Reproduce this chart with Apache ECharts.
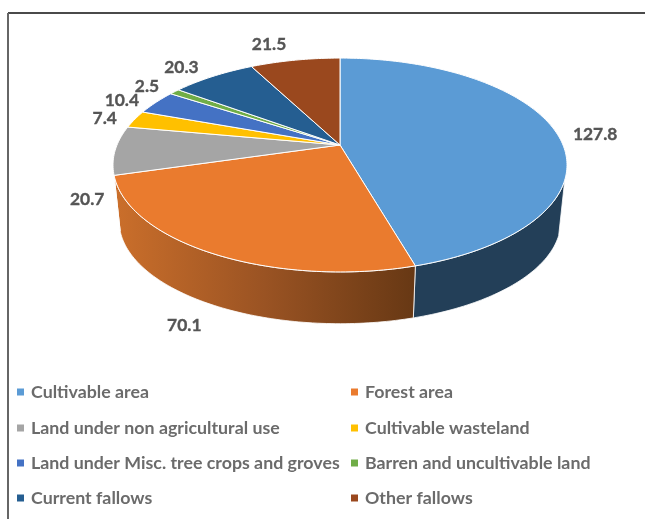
<!DOCTYPE html>
<html>
<head>
<meta charset="utf-8">
<style>html,body{margin:0;padding:0;background:#fff}#chart{width:645px;height:519px}</style>
<script src="https://cdn.jsdelivr.net/npm/echarts@6/dist/echarts.min.js"></script>
</head>
<body>
<div id="chart"></div>
<script>
// Land use classes and their areas
var categories = ['Cultivable area', 'Forest area', 'Land under non agricultural use', 'Cultivable wasteland',
  'Land under Misc. tree crops and groves', 'Barren and uncultivable land', 'Current fallows', 'Other fallows'];
var areas = [127.8, 70.1, 20.7, 7.4, 10.4, 2.5, 20.3, 21.5];
var topColors = ['#5b9bd5', '#ea7b2e', '#a5a5a5', '#ffc000', '#4472c4', '#70ad47', '#255e91', '#9a481e'];
// Pixel nudges from each slice's rim point out to its value label
var labelNudges = [[40, 3], [-27, 72], [-28, 49], [-30, -1], [-34, -2], [-27.5, -5], [-31.5, -9], [-26, -16]];

var total = areas.reduce(function (a, b) { return a + b; }, 0);
var TAU = Math.PI * 2;
var PERSPECTIVE = 0.187;          // foreshortening of the disc
var RIM_STEP = TAU / 360;
var BASE_SCALE_X = 0.973, BASE_SCALE_Y = 0.959, BASE_DROP = 0.552;
var SIDE_FROM = 108.6 / 360 * TAU, SIDE_TO = 254 / 360 * TAU;

// Point on the disc for a clockwise angle from north; `base` selects the lower rim
function discPoint(theta, radius, base) {
  var X = Math.sin(theta) * radius, Y = Math.cos(theta) * radius;
  var w = 1 + PERSPECTIVE * Y;
  if (base) return [BASE_SCALE_X * X / w, BASE_SCALE_Y * Y / w - BASE_DROP];
  return [X / w, Y / w];
}

function startAngle(index) {
  var sum = 0;
  for (var i = 0; i < index; i++) sum += areas[i];
  return sum / total * TAU;
}

function arcAngles(a, b) {
  var list = [];
  for (var t = a; t < b; t += RIM_STEP) list.push(t);
  list.push(b);
  return list;
}

function sideFill(index) {
  if (index === 1) {
    return new echarts.graphic.LinearGradient(0, 0, 1, 0, [
      { offset: 0, color: '#cb6f2b' }, { offset: 0.5, color: '#9a5323' }, { offset: 1, color: '#673814' }
    ]);
  }
  return '#233f58';
}

function renderSlice(index) {
  return function (params, api) {
    var value = api.value(0);
    var a = startAngle(index), b = a + value / total * TAU;
    var toPx = function (p) { return api.coord(p); };
    var children = [];

    var from = Math.max(a, SIDE_FROM), to = Math.min(b, SIDE_TO);
    if (to > from) {
      var angles = arcAngles(from, to);
      var upper = angles.map(function (t) { return toPx(discPoint(t, 1, false)); });
      var lower = angles.slice().reverse().map(function (t) { return toPx(discPoint(t, 1, true)); });
      children.push({
        type: 'polygon',
        shape: { points: upper.concat(lower) },
        style: { fill: sideFill(index), stroke: '#fff', lineWidth: 0.8 }
      });
    }

    var rim = arcAngles(a, b).map(function (t) { return toPx(discPoint(t, 1, false)); });
    children.push({
      type: 'polygon',
      shape: { points: [toPx([0, 0])].concat(rim) },
      style: { fill: topColors[index], stroke: '#fff', lineWidth: 1 },
      z2: 5
    });

    var mid = toPx(discPoint((a + b) / 2, 1, false));
    children.push({
      type: 'text',
      x: mid[0] + labelNudges[index][0],
      y: mid[1] + labelNudges[index][1],
      z2: 10,
      style: {
        text: String(value),
        fill: '#555555',
        font: 'bold 17.4px Lato',
        align: 'center',
        verticalAlign: 'middle',
        stroke: '#555555',
        lineWidth: 0.35
      }
    });
    return { type: 'group', children: children };
  };
}

var legendRows = [393, 429, 464, 499];
var legendCols = [17, 351];
var legends = categories.map(function (name, i) {
  return {
    data: [name],
    left: legendCols[i % 2],
    top: legendRows[Math.floor(i / 2)] - 10,
    padding: 0,
    icon: 'rect',
    itemWidth: 7,
    itemHeight: 7,
    itemGap: 0,
    selectedMode: false,
    textStyle: { color: '#6b6b6b', fontFamily: 'Lato', fontWeight: 'bold', fontSize: 17.8, padding: [0, 0, 0, 2] }
  };
});

var series = categories.map(function (name, i) {
  return {
    type: 'custom',
    name: name,
    coordinateSystem: 'cartesian2d',
    clip: false,
    animation: false,
    silent: true,
    itemStyle: { color: topColors[i] },
    encode: { x: 0, y: 0 },
    data: [[areas[i]]],
    renderItem: renderSlice(i)
  };
});

var chart = echarts.init(document.getElementById('chart'), null, { renderer: 'canvas' });
chart.setOption({
  backgroundColor: '#fff',
  animation: false,
  // Normalised disc space: one unit equals the disc's radius before foreshortening
  grid: { left: 94.7, width: 490.6, top: 41.8, height: 309.6 },
  xAxis: { type: 'value', min: -1.1, max: 1.1, show: false },
  yAxis: { type: 'value', min: -2, max: 1, show: false },
  legend: legends,
  graphic: [
    { type: 'line', silent: true, shape: { x1: 8, y1: 13, x2: 645, y2: 13 }, style: { stroke: '#4a4a4a', lineWidth: 2 } },
    { type: 'line', silent: true, shape: { x1: 8, y1: 13, x2: 8, y2: 519 }, style: { stroke: '#666666', lineWidth: 2 } }
  ],
  series: series
});
</script>
</body>
</html>
